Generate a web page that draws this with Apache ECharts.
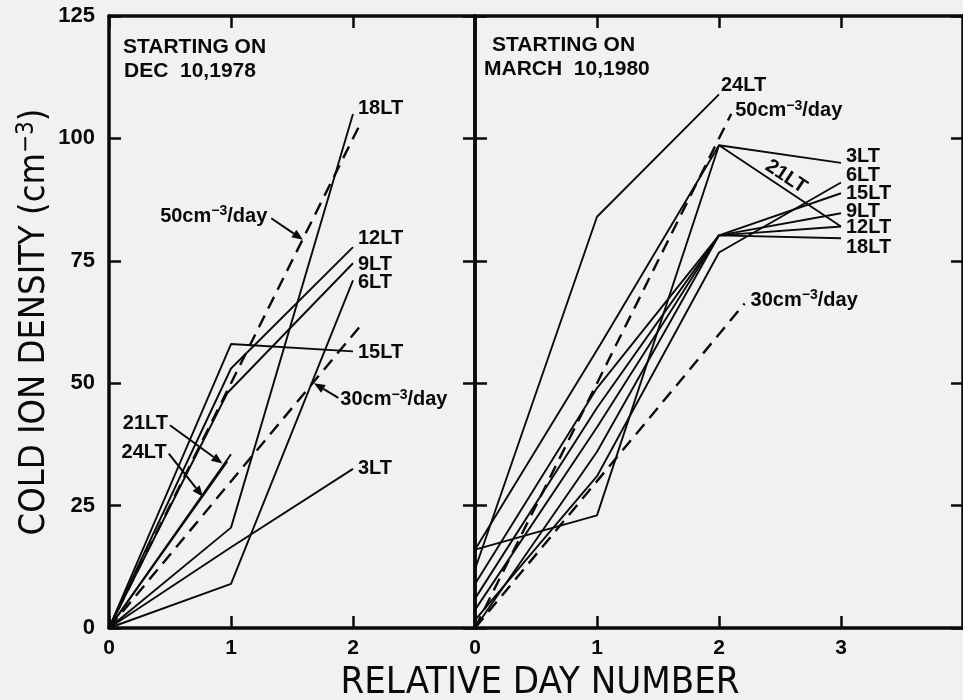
<!DOCTYPE html>
<html><head><meta charset="utf-8">
<script src="https://cdn.jsdelivr.net/npm/echarts@6/dist/echarts.min.js"></script>
<style>html,body{margin:0;padding:0;background:#f1f1f1}#c{width:963px;height:700px}</style>
</head><body><div id="c"></div>
<script>
// ---------- data ----------
const yTicks = [0, 25, 50, 75, 100, 125];
const decDayTicks = [0, 1, 2];
const marDayTicks = [0, 1, 2, 3];

// Panel 1: starting on Dec 10, 1978  [relative day, density]
const dec3LT  = [[0, 0], [1, 16.5], [2, 32.5]];
const dec6LT  = [[0, 0], [1, 9], [2, 71]];
const dec9LT  = [[0, 0], [0.97, 48], [2, 74.5]];
const dec12LT = [[0, 0], [1, 53], [2, 77.8]];
const dec15LT = [[0, 0], [1, 58], [2, 56.5]];
const dec18LT = [[0, 0], [1, 20.5], [2, 105]];
const dec21LT = [[0, 0], [1.0, 35.5]];
const dec24LT = [[0, 0], [0.97, 34]];
const dec50   = [[0, 0], [2.07, 103.5]];
const dec30   = [[0, 0], [2.07, 62]];

// Panel 2: starting on March 10, 1980
const mar3LT  = [[0, 16], [1, 23], [2, 98.6], [3, 95]];
const mar6LT  = [[0, 1.6], [1, 31], [2, 76.7], [3, 91]];
const mar9LT  = [[0, 6], [1, 45], [2, 80.2], [3, 84.7]];
const mar12LT = [[0, 9], [1, 49], [2, 80.2], [3, 82]];
const mar15LT = [[0, 3.7], [1, 41], [2, 80.2], [3, 88.8]];
const mar18LT = [[0, 0], [1, 36], [2, 80.2], [3, 79.6]];
const mar21LT = [[0, 16], [1.03, 58], [2, 98.6], [3, 82]];
const mar24LT = [[0, 12], [1, 84], [2, 109]];
const mar50   = [[0, 0], [2.1, 105]];
const mar30   = [[0, 0], [2.21, 66.3]];

// ---------- styling ----------
const FONT = "'Liberation Sans', Arial, Helvetica, sans-serif";
const NARROW = "'Liberation Sans Narrow', 'DejaVu Sans Condensed', 'Liberation Sans', sans-serif";
const INK = '#0a0a0a';
const richLbl = {
  n: {fontSize: 20, fontWeight: 'bold', fontFamily: FONT, color: INK, fill: INK, lineHeight: 24},
  s: {fontSize: 14, fontWeight: 'bold', fontFamily: FONT, color: INK, fill: INK, verticalAlign: 'top', lineHeight: 24}
};

const chart = echarts.init(document.getElementById('c'), null, {renderer: 'canvas'});

function xAx(grid, pos, max, showLbl) {
  return {
    type: 'value', gridIndex: grid, position: pos, min: 0, max: max, interval: 1,
    axisLine: {show: true, onZero: false, lineStyle: {color: INK, width: 3.5}},
    axisTick: {show: true, inside: true, length: 12, lineStyle: {color: INK, width: 2.5}},
    axisLabel: {show: showLbl, color: INK, fontSize: 21, fontWeight: 'bold', fontFamily: FONT, margin: 10,
      showMaxLabel: false, formatter: v => (v < max ? String(v) : '')},
    splitLine: {show: false}
  };
}
function yAx(grid, pos, showLbl) {
  return {
    type: 'value', gridIndex: grid, position: pos, min: 0, max: 125, interval: 25,
    axisLine: {show: true, onZero: false, lineStyle: {color: INK, width: 3.5}},
    axisTick: {show: true, inside: true, length: 12, lineStyle: {color: INK, width: 2.5}},
    axisLabel: {show: showLbl, color: INK, fontSize: 22, fontWeight: 'bold', fontFamily: FONT, margin: 14,
      formatter: v => (yTicks.indexOf(v) >= 0 ? String(v) : '')},
    splitLine: {show: false}
  };
}
function ln(data, g, dashed, end) {
  const s = {
    type: 'line', data: data, xAxisIndex: g * 2, yAxisIndex: g * 2,
    symbol: 'none', showSymbol: false, silent: true, clip: false,
    lineStyle: {color: INK, width: dashed ? 2.4 : 1.9, type: dashed ? [13, 8] : 'solid'}
  };
  if (end) {
    s.endLabel = {show: true, formatter: end.text, offset: end.offset || [0, 0],
      color: INK, fontSize: 20, fontWeight: 'bold', fontFamily: FONT, rich: richLbl, distance: 4};
  }
  return s;
}

const option = {
  backgroundColor: '#f1f1f1',
  animation: false,
  grid: [
    {left: 109, top: 16, width: 366, height: 612, outerBoundsMode: 'none', containLabel: false},
    {left: 475, top: 16, width: 488, height: 612, outerBoundsMode: 'none', containLabel: false}
  ],
  xAxis: [xAx(0, 'bottom', 3, true), xAx(0, 'top', 3, false), xAx(1, 'bottom', 4, true), xAx(1, 'top', 4, false)],
  yAxis: [yAx(0, 'left', true), yAx(0, 'right', false), yAx(1, 'left', false), yAx(1, 'right', false)],
  series: [
    ln(dec3LT, 0, false, {text: '{n|3LT}', offset: [1, 0]}),
    ln(dec6LT, 0, false, {text: '{n|6LT}', offset: [1, 2]}),
    ln(dec9LT, 0, false, {text: '{n|9LT}', offset: [1, 1]}),
    ln(dec12LT, 0, false, {text: '{n|12LT}', offset: [1, -9]}),
    ln(dec15LT, 0, false, {text: '{n|15LT}', offset: [1, 1]}),
    ln(dec18LT, 0, false, {text: '{n|18LT}', offset: [1, -5]}),
    ln(dec21LT, 0, false),
    ln(dec24LT, 0, false),
    ln(dec50, 0, true),
    ln(dec30, 0, true),
    ln(mar3LT, 1, false, {text: '{n|3LT}', offset: [1, -6]}),
    ln(mar6LT, 1, false, {text: '{n|6LT}', offset: [1, -7]}),
    ln(mar9LT, 1, false, {text: '{n|9LT}', offset: [1, -2]}),
    ln(mar12LT, 1, false, {text: '{n|12LT}', offset: [1, 1]}),
    ln(mar15LT, 1, false, {text: '{n|15LT}', offset: [1, 0]}),
    ln(mar18LT, 1, false, {text: '{n|18LT}', offset: [1, 9]}),
    ln(mar21LT, 1, false),
    ln(mar24LT, 1, false, {text: '{n|24LT}', offset: [-2, -9]}),
    ln(mar50, 1, true, {text: '{n|50cm}{s|−3}{n|/day}', offset: [0, -3]}),
    ln(mar30, 1, true, {text: '{n|30cm}{s|−3}{n|/day}', offset: [2, -3]})
  ]
};
chart.setOption(option);

// ---------- annotations ----------
const px = (g, pt) => chart.convertToPixel({xAxisIndex: g * 2, yAxisIndex: g * 2}, pt);
function arrow(tail, tip) {
  const dx = tip[0] - tail[0], dy = tip[1] - tail[1];
  const L = Math.sqrt(dx * dx + dy * dy), ux = dx / L, uy = dy / L;
  const hl = 11, hw = 4.5;
  const bx = tip[0] - ux * hl, by = tip[1] - uy * hl;
  return [
    {type: 'line', silent: true, shape: {x1: tail[0], y1: tail[1], x2: bx, y2: by}, style: {stroke: INK, lineWidth: 2}},
    {type: 'polygon', silent: true, shape: {points: [tip, [bx - uy * hw, by + ux * hw], [bx + uy * hw, by - ux * hw]]}, style: {fill: INK}}
  ];
}
function txt(x, y, text, align, extra) {
  return Object.assign({type: 'text', silent: true, x: x, y: y,
    style: {text: text, rich: richLbl, align: align, verticalAlign: 'middle', fill: INK,
      fontSize: 20, fontWeight: 'bold', fontFamily: FONT}}, extra || {});
}
function title(x, y, text) {
  return {type: 'text', silent: true, left: x, top: y,
    style: {text: text, fill: INK, fontSize: 21, fontWeight: 'bold', fontFamily: FONT}};
}

const g = [];
// panel titles
g.push(title(123, 37, 'STARTING ON'));
g.push(title(124, 61, 'DEC  10,1978'));
g.push(title(492, 35, 'STARTING ON'));
g.push(title(484, 59, 'MARCH  10,1980'));

// left panel arrows + labels
const a50tail = px(0, [1.33, 83.7]), a50tip = px(0, [1.59, 79.3]);
g.push(...arrow(a50tail, a50tip));
g.push(txt(a50tail[0] - 4, a50tail[1] - 2, '{n|50cm}{s|−3}{n|/day}', 'right'));
const a30tail = px(0, [1.88, 47.0]), a30tip = px(0, [1.68, 50.0]);
g.push(...arrow(a30tail, a30tip));
g.push(txt(a30tail[0] + 2, a30tail[1] + 2, '{n|30cm}{s|−3}{n|/day}', 'left'));
const a21tail = px(0, [0.5, 41.4]), a21tip = px(0, [0.93, 33.6]);
g.push(...arrow(a21tail, a21tip));
g.push(txt(a21tail[0] - 2, a21tail[1] - 2, '{n|21LT}', 'right'));
const a24tail = px(0, [0.49, 35.6]), a24tip = px(0, [0.77, 26.8]);
g.push(...arrow(a24tail, a24tip));
g.push(txt(a24tail[0] - 2, a24tail[1] - 1, '{n|24LT}', 'right'));

// right panel rotated 21LT label
const r1 = px(1, mar21LT[2]), r2 = px(1, mar21LT[3]);
const ang = Math.atan2(r2[1] - r1[1], r2[0] - r1[0]);
const mx = r1[0] + (r2[0] - r1[0]) * 0.5, my = r1[1] + (r2[1] - r1[1]) * 0.5;
g.push(txt(mx + Math.sin(ang) * 11, my - Math.cos(ang) * 11, '{n|21LT}', 'center', {rotation: -ang}));

// axis titles
g.push({type: 'text', silent: true, x: 35, y: 322, rotation: Math.PI / 2,
  style: {text: '{t|COLD ION DENSITY (cm}{u|−3}{t|)}', align: 'center', verticalAlign: 'middle',
    rich: {t: {fontSize: 36, fontFamily: NARROW, fill: INK, color: INK, lineHeight: 40},
           u: {fontSize: 24, fontFamily: NARROW, fill: INK, color: INK, verticalAlign: 'top', lineHeight: 40}}}});
g.push({type: 'text', silent: true, x: 540, y: 683,
  style: {text: 'RELATIVE DAY NUMBER', align: 'center', verticalAlign: 'middle',
    fill: INK, fontSize: 38, fontFamily: NARROW}});

chart.setOption({graphic: g});
</script></body></html>
